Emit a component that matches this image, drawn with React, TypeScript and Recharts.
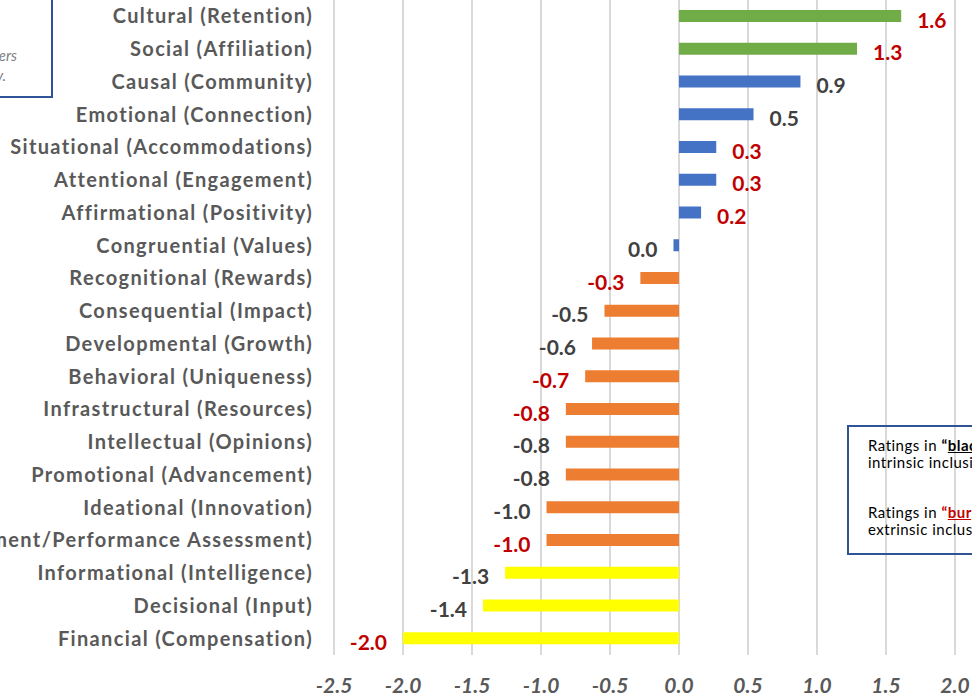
import React from "react";
import {
  BarChart,
  Bar,
  XAxis,
  YAxis,
  CartesianGrid,
  Cell,
  LabelList,
} from "recharts";

const categories = [
  "Cultural (Retention)",
  "Social (Affiliation)",
  "Causal (Community)",
  "Emotional (Connection)",
  "Situational (Accommodations)",
  "Attentional (Engagement)",
  "Affirmational (Positivity)",
  "Congruential (Values)",
  "Recognitional (Rewards)",
  "Consequential (Impact)",
  "Developmental (Growth)",
  "Behavioral (Uniqueness)",
  "Infrastructural (Resources)",
  "Intellectual (Opinions)",
  "Promotional (Advancement)",
  "Ideational (Innovation)",
  "Evaluational (Measurement/Performance Assessment)",
  "Informational (Intelligence)",
  "Decisional (Input)",
  "Financial (Compensation)",
];

const scores = [
  1.61, 1.29, 0.88, 0.54, 0.27, 0.27, 0.16, -0.04, -0.28, -0.54, -0.63, -0.68,
  -0.82, -0.82, -0.82, -0.96, -0.96, -1.26, -1.42, -2.0,
];

// bar fill by group
const barColors = [
  "#70AD47", "#70AD47",
  "#4472C4", "#4472C4", "#4472C4", "#4472C4", "#4472C4", "#4472C4",
  "#ED7D31", "#ED7D31", "#ED7D31", "#ED7D31", "#ED7D31", "#ED7D31",
  "#ED7D31", "#ED7D31", "#ED7D31",
  "#FFFF00", "#FFFF00", "#FFFF00",
];

// "r" = burgundy (extrinsic), "k" = black (intrinsic)
const labelTones = [
  "r", "r", "k", "k", "r", "r", "r", "k", "r", "k",
  "k", "r", "r", "k", "k", "k", "r", "k", "k", "r",
];

const xTicks = [-2.5, -2.0, -1.5, -1.0, -0.5, 0.0, 0.5, 1.0, 1.5, 2.0, 2.5];

const data = categories.map((name, i) => ({
  name,
  score: scores[i],
  color: barColors[i],
  tone: labelTones[i],
}));

const FONT = "Lato, 'Open Sans', sans-serif";
const GRAY = "#595959";
const RED = "#C00000";
const DARK = "#404040";

const fmt = (v: number) => {
  const r = Math.round(v * 10) / 10;
  return (r === 0 ? 0 : r).toFixed(1);
};

const ValueLabel = (props: any) => {
  const { x, y, width, height, value, index } = props;
  const tone = data[index]?.tone;
  const left = Math.min(x, x + width);
  const right = Math.max(x, x + width);
  const neg = value < 0;
  return (
    <text
      x={neg ? left - 16 : right + 16}
      y={y + height / 2 + 3}
      textAnchor={neg ? "end" : "start"}
      dominantBaseline="central"
      fill={tone === "r" ? RED : DARK}
      fontFamily={FONT}
      fontWeight={700}
      fontSize={21}
    >
      {fmt(Number(value))}
    </text>
  );
};

const CategoryTick = (props: any) => {
  const { x, y, payload } = props;
  return (
    <text
      x={x + 1}
      y={y - 1}
      textAnchor="end"
      dominantBaseline="central"
      fill={GRAY}
      fontFamily={FONT}
      fontWeight={700}
      fontSize={20}
      letterSpacing={1.35}
    >
      {payload.value}
    </text>
  );
};

export default function App() {
  return (
    <div
      style={{
        position: "fixed",
        left: 0,
        top: 0,
        width: 972,
        height: 698,
        overflow: "hidden",
        background: "#fff",
      }}
    >
      <div style={{ position: "absolute", left: 0, top: 0 }}>
        <BarChart
          width={1040}
          height={698}
          data={data}
          layout="vertical"
          margin={{ top: 0, right: 16, bottom: 0, left: 0 }}
        >
          <CartesianGrid
            horizontal={false}
            stroke="#D9D9D9"
            strokeWidth={2}
          />
          <XAxis
            type="number"
            domain={[-2.5, 2.5]}
            ticks={xTicks}
            axisLine={false}
            tickLine={false}
            tickSize={0}
            tickMargin={23}
            height={43}
            tickFormatter={(v: number) => v.toFixed(1)}
            tick={{
              fill: GRAY,
              fontFamily: FONT,
              fontWeight: 700,
              fontStyle: "italic",
              fontSize: 21,
            }}
          />
          <YAxis
            type="category"
            dataKey="name"
            width={334}
            axisLine={false}
            tickLine={false}
            tickSize={0}
            tickMargin={22}
            interval={0}
            tick={<CategoryTick />}
          />
          <Bar dataKey="score" barSize={12} isAnimationActive={false}>
            {data.map((d, i) => (
              <Cell key={i} fill={d.color} />
            ))}
            <LabelList dataKey="score" content={ValueLabel} />
          </Bar>
        </BarChart>
      </div>

      {/* note box, top left (cut off) */}
      <div
        style={{
          position: "absolute",
          left: -160,
          top: -4,
          width: 213,
          height: 102,
          border: "2px solid #2F5597",
          boxSizing: "border-box",
        }}
      />
      <div
        style={{
          position: "absolute",
          right: 955,
          top: 45,
          whiteSpace: "nowrap",
          fontFamily: FONT,
          fontStyle: "italic",
          fontSize: 15,
          color: "#7F7F7F",
          lineHeight: "20px",
        }}
      >
        indicates answers
      </div>
      <div
        style={{
          position: "absolute",
          right: 966,
          top: 65,
          whiteSpace: "nowrap",
          fontFamily: FONT,
          fontStyle: "italic",
          fontSize: 15,
          color: "#7F7F7F",
          lineHeight: "20px",
        }}
      >
        in the survey.
      </div>

      {/* legend note, right (cut off) */}
      <div
        style={{
          position: "absolute",
          left: 847,
          top: 425,
          width: 260,
          height: 130,
          border: "2px solid #2F5597",
          boxSizing: "border-box",
          padding: "10px 0 0 19px",
          fontFamily: FONT,
          fontSize: 15,
          letterSpacing: 0.5,
          lineHeight: "17px",
          color: "#000",
          whiteSpace: "nowrap",
        }}
      >
        <div>
          Ratings in{" "}
          <b>
            “<u>black</u>”
          </b>{" "}
          indicate
        </div>
        <div>intrinsic inclusion drivers.</div>
        <div style={{ height: 33 }} />
        <div>
          Ratings in{" "}
          <b style={{ color: RED }}>
            “<u>burgundy</u>”
          </b>{" "}
          indicate
        </div>
        <div>extrinsic inclusion drivers.</div>
      </div>
    </div>
  );
}
